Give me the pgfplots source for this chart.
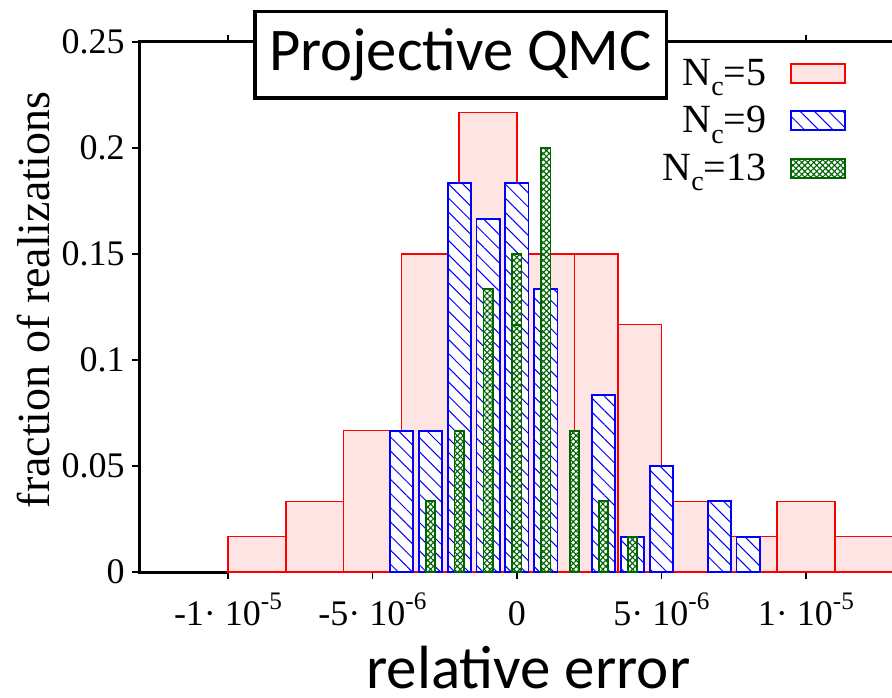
\documentclass[border=0pt]{standalone}
\usepackage{fontspec}
\setmainfont{Liberation Serif}
\newfontfamily\calibri{Carlito}
\newfontfamily\timesf{Liberation Serif}
\usepackage{graphicx}
\usepackage{pgfplots}
\pgfplotsset{compat=1.18}
\usetikzlibrary{patterns.meta}
\newcommand{\sups}[1]{\raisebox{0.45em}{\fontsize{12.6}{12.6}\selectfont #1}}
\newcommand{\subs}[1]{\raisebox{-0.27em}{\fontsize{14}{14}\selectfont #1}}
\definecolor{pinkfill}{RGB}{255,228,228}
\definecolor{dgreen}{RGB}{0,100,0}
\pgfplotsset{myleg/.style={legend image code/.code={\draw[##1] (0pt,-4.75pt) rectangle (27pt,4.75pt);}}}
\begin{document}
\begin{tikzpicture}
\begin{axis}[
  at={(0,0)}, anchor=south west, scale only axis,
  width=376.5pt, height=265pt,
  xmin=-13.08, xmax=12.98, ymin=0, ymax=0.25,
  clip=false,
  axis x line=box, axis y line=left,
  x axis line style={draw=none},
  y axis line style={-, line width=1.5pt, black},
  every outer y axis line/.append style={-},
  every inner y axis line/.append style={-},
  xtick={-10,-5,0,5,10},
  xticklabels={-1· 10\sups{-5}, -5· 10\sups{-6}, 0, 5· 10\sups{-6}, 1· 10\sups{-5}},
  ytick={0,0.05,0.1,0.15,0.2,0.25},
  yticklabels={0,0.05,0.1,0.15,0.2,0.25},
  tick align=outside,
  major tick length=3.5pt,
  every tick/.style={black, line width=0.75pt},
  tick label style={font=\timesf\fontsize{18}{18}\selectfont},
  xticklabel style={anchor=north, text height=21pt, inner sep=2pt},
  yticklabel style={anchor=east, inner sep=3.5pt},
  xlabel={\calibri\fontsize{30.5}{30.5}\selectfont relative error},
  every axis x label/.style={at={(axis description cs:0.517,-0.219)}, anchor=base},
  legend style={draw=none, fill=none, at={(axis description cs:0.939,0.968)}, anchor=north east, inner sep=0pt, outer sep=0pt, row sep=9pt, column sep=12pt, font=\timesf\fontsize{20}{20}\selectfont, nodes={inner sep=0pt}},
  legend cell align=right,
  legend plot pos=right,
]
\draw[line width=1.5pt, line cap=rect] (rel axis cs:0,1) -- (rel axis cs:1,1);
\draw[line width=1.5pt, line cap=rect] (rel axis cs:0,0) -- (axis cs:-10,0);

\addplot[ybar interval, draw=red, fill=pinkfill, line width=0.75pt, myleg] coordinates {
(-10,0.016667) (-8,0.033333) (-6,0.066667) (-4,0.15) (-2,0.216667) (0,0.15) (2,0.15) (3.5,0.116667) (5,0.033333) (7,0.016667) (9,0.033333) (11,0.016667) (13,0.016667)};
\addlegendentry{N\subs{c}=5}

\addplot[ybar, bar width=0.8, bar shift=0pt, draw=blue, line width=0.9pt, fill=white, postaction={pattern={Lines[angle=-45,distance=5pt,line width=0.5pt]}, pattern color=blue}, myleg] coordinates {
(-4,0.066667) (-3,0.066667) (-2,0.183333) (-1,0.166667) (0,0.183333) (1,0.133333) (3,0.083333) (4,0.016667) (5,0.05) (7,0.033333) (8,0.016667)};
\addlegendentry{N\subs{c}=9}

\addplot[ybar, bar width=0.32, bar shift=0pt, draw=dgreen, line width=0.9pt, fill=white, postaction={pattern={Hatch[angle=45,distance=2.1pt,line width=0.55pt]}, pattern color=dgreen}, myleg] coordinates {
(-3,0.033333) (-2,0.066667) (-1,0.133333) (0,0.15) (0,0.116667) (1,0.2) (2,0.066667) (3,0.033333) (4,0.016667)};
\addlegendentry{N\subs{c}=13}

\node[draw=black, line width=1.75pt, fill=white, minimum width=205.75pt, minimum height=43.25pt, inner sep=0pt, font=\calibri\fontsize{30.3}{30.3}\selectfont] at (rel axis cs:0.427,0.9755) {Projective QMC};
\node[anchor=east, inner sep=0pt] at (rel axis cs:-0.1182,0.513) {\rotatebox{90}{\fontspec{Liberation Serif}\fontsize{23}{23}\selectfont fraction of realizations}};
\end{axis}
\pgfresetboundingbox
\useasboundingbox (-69.5pt,-62.5pt) rectangle (376.5pt,286pt);
\end{tikzpicture}
\end{document}
